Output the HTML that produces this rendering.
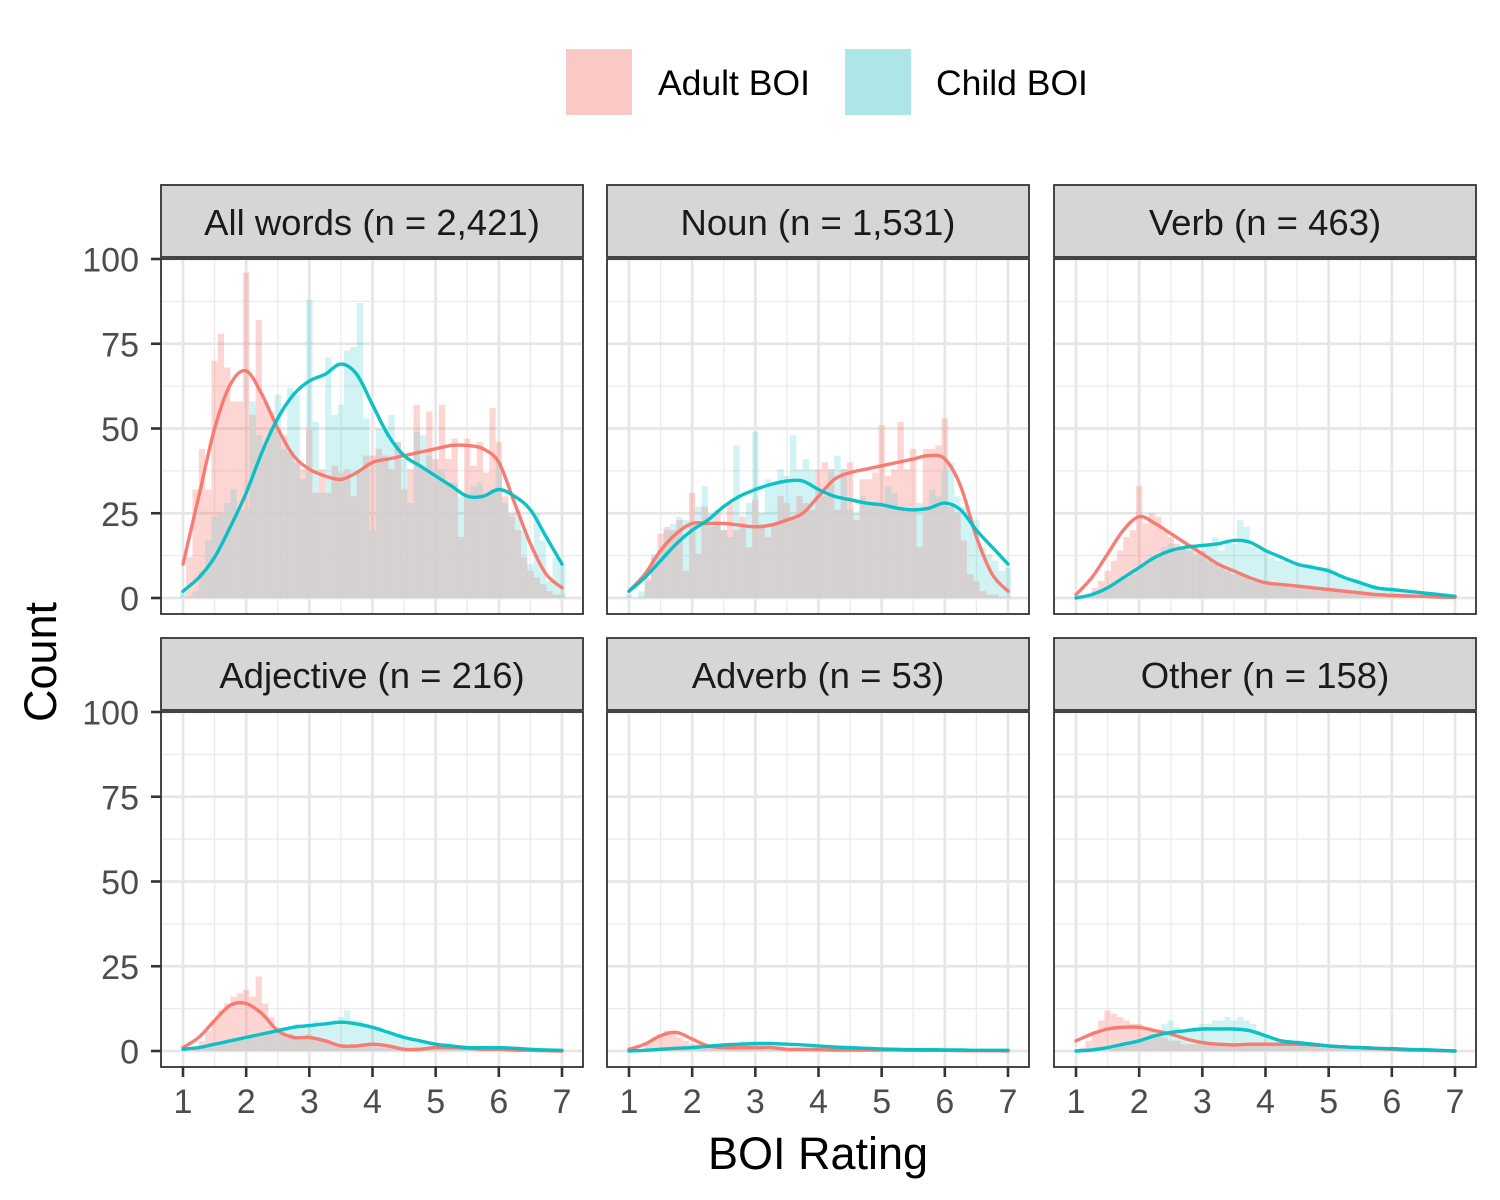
<!DOCTYPE html>
<html><head><meta charset="utf-8"><style>
html,body{margin:0;padding:0;background:#fff;}
svg{display:block;font-family:"Liberation Sans",Arial,sans-serif;}
</style></head><body>
<svg id="chart" width="1500" height="1200" viewBox="0 0 1500 1200" xmlns="http://www.w3.org/2000/svg">
<rect x="0" y="0" width="1500" height="1200" fill="#fff"/>
<g>
  <rect x="566" y="49" width="66" height="66" fill="#FAC8C5"/>
  <rect x="845" y="49" width="66" height="66" fill="#AEE5E6"/>
  <text x="658" y="95" font-size="35.5" fill="#000">Adult BOI</text>
  <text x="936" y="95" font-size="35.5" fill="#000">Child BOI</text>
</g>
<text x="0" y="0" transform="translate(56,662) rotate(-90)" text-anchor="middle" font-size="45" fill="#000">Count</text>
<text x="818" y="1169" text-anchor="middle" font-size="45" fill="#000">BOI Rating</text>
<g id="panels"></g>
</svg>
<script>
const facetTitles = ["All words (n = 2,421)","Noun (n = 1,531)","Verb (n = 463)","Adjective (n = 216)","Adverb (n = 53)","Other (n = 158)"];
const facetNames = ["all-words","noun","verb","adjective","adverb","other"];
const yTicks = [0,25,50,75,100];
const xTicks = [1,2,3,4,5,6,7];
const binCenters0 = 1.0, binWidth = 0.1;
const densityX = [1,1.25,1.5,1.75,2,2.25,2.5,2.75,3,3.25,3.5,3.75,4,4.25,4.5,4.75,5,5.25,5.5,5.75,6,6.25,6.5,6.75,7];

const adultBars = [
[0,12,32,44,32,70,78,68,58,58,96,54,82,58,55,50,48,43,40,38,50,31,38,31,39,37,38,30,37,42,42,44,42,38,46,32,38,57,38,55,41,57,41,47,18,47,39,46,37,56,46,30,25,20,12,8,6,4,2,1,1],
[0,0,0,6,12,19,21,20,23,8,31,13,27,21,26,20,28,20,24,15,29,21,18,22,30,28,24,30,28,26,38,40,38,26,38,40,23,35,35,37,51,36,38,52,38,44,15,44,44,45,53,27,25,17,7,5,2,1,1,0,0],
[0,0,1,3,5,8,11,14,18,20,33,22,25,24,20,18,16,15,14,13,14,11,10,9,8,7,7,6,5,5,5,4,4,4,3,3,3,3,3,3,3,2,2,2,2,2,1,1,1,1,1,1,1,1,0,0,1,0,0,0,0],
[0,0,1,3,6,9,12,14,16,17,18,16,22,14,10,7,5,5,4,4,5,4,3,3,2,2,1,2,2,2,2,1,1,1,0,1,0,1,1,1,1,1,1,0,1,0,1,0,0,0,1,0,0,0,0,0,0,0,0,0,0],
[0,0,0,2,4,5,6,5,4,3,2,2,1,1,1,1,1,1,1,1,1,1,0,1,0,1,0,0,0,0,0,0,0,0,0,0,0,0,0,0,0,0,0,0,0,0,0,0,0,0,0,0,0,0,0,0,0,0,0,0,0],
[0,1,3,6,9,12,11,10,9,8,8,7,6,5,4,3,3,2,2,2,2,2,2,2,2,2,2,2,2,2,2,2,2,2,2,2,2,2,2,1,1,1,1,1,1,1,1,1,1,0,1,0,0,0,0,0,0,0,0,0,0]
];
const childBars = [
[2,0,2,8,17,24,25,28,32,26,26,58,48,45,50,60,44,62,60,35,88,52,31,71,54,57,73,74,87,53,20,50,50,54,46,41,28,49,48,42,38,38,34,34,30,31,33,34,30,32,40,28,24,26,20,10,25,17,5,12,10],
[1,0,2,5,13,14,20,22,24,23,22,27,33,25,22,20,18,45,21,28,49,25,35,33,38,36,48,38,41,38,32,30,38,42,38,26,25,30,28,28,28,33,31,27,26,25,28,26,32,30,38,40,30,27,24,23,15,13,11,8,9],
[0,0,0,1,2,3,4,5,6,7,9,10,12,13,15,16,14,15,16,15,14,16,18,14,17,16,23,21,15,14,14,12,11,11,10,10,9,10,9,8,9,7,7,6,5,5,4,4,3,3,3,2,2,2,1,1,1,1,1,0,0],
[0,0,0,1,1,2,2,3,3,4,4,4,5,5,6,6,7,7,8,7,8,9,8,8,9,10,12,9,9,8,7,7,6,5,5,4,4,3,3,3,2,2,1,1,1,1,1,1,1,1,1,1,1,1,0,1,0,0,0,0,0],
[0,0,0,0,0,0,0,1,0,1,1,1,1,2,2,2,1,2,3,2,2,2,2,1,2,1,1,1,1,1,1,1,0,1,0,1,0,0,1,0,0,0,0,0,0,0,0,0,0,0,0,0,0,0,0,0,0,0,0,0,0],
[0,0,0,0,1,1,1,2,2,3,3,4,5,6,8,9,7,6,7,7,8,8,9,9,10,9,10,9,8,6,5,4,3,3,2,2,2,2,2,2,2,2,1,1,1,1,1,1,1,1,1,1,1,0,0,0,0,0,0,0,0]
];
const adultDensity = [
[10,30,50,63,67,60,50,42,38,36,35,37,40,41,42,43,44,45,45,44,40,28,16,7,3],
[2,7,14,19,22,22,22,21.5,21,21.5,23,25,30,35,37,38,39,40,41,42,41,33,18,7,2],
[1,6,13,20,24,22,19,16,13,10,8,6,4.5,4,3.5,3,2.5,2,1.5,1,0.8,0.6,0.5,0.3,0.2],
[1,4,9,13.5,14,11,6,4,4,3,1.5,1.5,2,1.5,0.5,0.5,1,1,0.8,0.5,0.5,0.3,0.2,0.1,0],
[0.5,2,4.5,5.5,3.5,1.5,1,1,1,1,0.5,0.5,0.4,0.3,0.3,0.3,0.3,0.3,0.2,0.2,0.2,0.1,0.1,0.1,0],
[3,5,6.5,7,7,6,5,3.5,2.5,2,1.8,2,2,2,2,1.8,1.5,1.2,1,0.8,0.5,0.3,0.2,0.1,0]
];
const childDensity = [
[2,6,12,21,31,43,53,60,64,66,69,66,57,48,42,39,36,33,30,30,32,30,26,18,10],
[2,6,11,16,20,23,27,30,32,33.5,34.5,34.5,32,30,29,28,27.5,26.5,26,26.5,28,26,20,15,10],
[0,1,3,6,9,12,14,15,15.5,16,17,16.5,14,12,10,9,8,6,4.5,3,2.5,2,1.5,1,0.5],
[0.5,1,2,3,4,5,6,7,7.5,8,8.5,8,7,5.5,4,3,2,1.5,1,1,1,0.8,0.5,0.3,0.2],
[0,0.2,0.5,0.8,1,1.4,1.8,2,2.2,2.2,2,1.8,1.5,1.2,1,0.8,0.6,0.5,0.4,0.4,0.3,0.3,0.2,0.2,0.2],
[0,0.3,1,2,3,4.5,5.5,6,6.5,6.5,6.5,6,4.5,3,2.5,2,1.5,1.2,1,0.8,0.7,0.5,0.4,0.2,0]
];

const NS = "http://www.w3.org/2000/svg";
const root = document.getElementById("panels");
const colX = [161,607,1054], panelW = 422;
const rowStrip = [185,638], rowPanelTop = [259,712], panelH = 355;
function mk(tag, attrs, parent){const e=document.createElementNS(NS,tag);for(const k in attrs)e.setAttribute(k,attrs[k]);parent.appendChild(e);return e;}
function smoothPath(pts){
  let d="M"+pts[0][0].toFixed(1)+","+pts[0][1].toFixed(1);
  for(let i=0;i<pts.length-1;i++){
    const p0=pts[Math.max(0,i-1)],p1=pts[i],p2=pts[i+1],p3=pts[Math.min(pts.length-1,i+2)];
    const c1=[p1[0]+(p2[0]-p0[0])/6,p1[1]+(p2[1]-p0[1])/6];
    const c2=[p2[0]-(p3[0]-p1[0])/6,p2[1]-(p3[1]-p1[1])/6];
    d+=" C"+c1[0].toFixed(1)+","+c1[1].toFixed(1)+" "+c2[0].toFixed(1)+","+c2[1].toFixed(1)+" "+p2[0].toFixed(1)+","+p2[1].toFixed(1);
  }
  return d;
}
for(let f=0;f<6;f++){
  const c=f%3, r=Math.floor(f/3);
  const px=colX[c], py=rowPanelTop[r];
  const xs=v=>px+22+(v-1)*(379/6);
  const ys=v=>py+339-v*(339/100);
  const g=mk("g",{},root);
  
  
  const bg=mk("rect",{x:px,y:py,width:panelW,height:panelH,fill:"#fff"},g);
  
  
  for(let v=12.5;v<=112.5;v+=25){const y=ys(v);if(y<py)continue;const l=mk("line",{x1:px,x2:px+panelW,y1:y,y2:y,stroke:"#EBEBEB","stroke-width":1.3},g);}
  for(let v=0.5;v<=7.5;v+=1){const x=xs(v);if(x<px||x>px+panelW)continue;const l=mk("line",{x1:x,x2:x,y1:py,y2:py+panelH,stroke:"#EBEBEB","stroke-width":1.3},g);}
  for(const v of yTicks){const y=ys(v);const l=mk("line",{x1:px,x2:px+panelW,y1:y,y2:y,stroke:"#E6E6E6","stroke-width":2.7},g);}
  for(const v of xTicks){const x=xs(v);const l=mk("line",{x1:x,x2:x,y1:py,y2:py+panelH,stroke:"#E6E6E6","stroke-width":2.7},g);}
  const nb=Math.max(adultBars[f].length, childBars[f].length);
  for(let i=0;i<nb;i++){
    const a=adultBars[f][i]||0, ch=childBars[f][i]||0;
    const cx=binCenters0+i*binWidth;
    const x0=xs(cx-binWidth/2), x1=xs(cx+binWidth/2);
    if(a>0){
      const b=mk("rect",{x:x0,y:ys(a),width:x1-x0,height:ys(0)-ys(a),fill:"#F8766D","fill-opacity":0.3},g);
      
      
    }
    if(ch>0){
      const b=mk("rect",{x:x0,y:ys(ch),width:x1-x0,height:ys(0)-ys(ch),fill:"#00BFC4","fill-opacity":0.18},g);
      
      
    }
    const m=Math.min(a,ch);
    if(m>0){
      const b=mk("rect",{x:x0,y:ys(m),width:x1-x0,height:ys(0)-ys(m),fill:"#D8D2D2","fill-opacity":0.85},g);
      
      
    }
  }
  const lines=[[adultDensity[f],"#F8766D","adult"],[childDensity[f],"#00BFC4","child"]];
  for(const [arr,col,nm] of lines){
    const pts=arr.map((v,i)=>[xs(densityX[i]),ys(v)]);
    const p=mk("path",{d:smoothPath(pts),fill:"none",stroke:col,"stroke-width":3.4,"stroke-linecap":"round","stroke-opacity":0.95},g);
    
    
  }
  const br=mk("rect",{x:px,y:py,width:panelW,height:panelH,fill:"none",stroke:"#333","stroke-width":1.8},g);
  
  
  const sy=rowStrip[r];
  const st=mk("rect",{x:px,y:sy,width:panelW,height:py-sy-2,fill:"#D6D6D6",stroke:"#333","stroke-width":1.8},g);
  
  
  const tt=mk("text",{x:px+panelW/2,y:sy+50,"text-anchor":"middle","font-size":36.5,fill:"#1A1A1A"},g);
  tt.textContent=facetTitles[f];
  
  
  if(c===0){
    for(const v of yTicks){
      const y=ys(v);
      const tk=mk("line",{x1:px-10,x2:px,y1:y,y2:y,stroke:"#333","stroke-width":2.6},g);
      
      
      const t=mk("text",{x:px-22,y:y+12.5,"text-anchor":"end","font-size":34,fill:"#4D4D4D"},g);
      t.textContent=v;
      
      
    }
  }
  if(r===1){
    for(const v of xTicks){
      const x=xs(v);
      const tk=mk("line",{x1:x,x2:x,y1:py+panelH,y2:py+panelH+10,stroke:"#333","stroke-width":2.6},g);
      
      
      const t=mk("text",{x:x,y:1113,"text-anchor":"middle","font-size":34,fill:"#4D4D4D"},g);
      t.textContent=v;
      
      
    }
  }
}
</script>
</body></html>
